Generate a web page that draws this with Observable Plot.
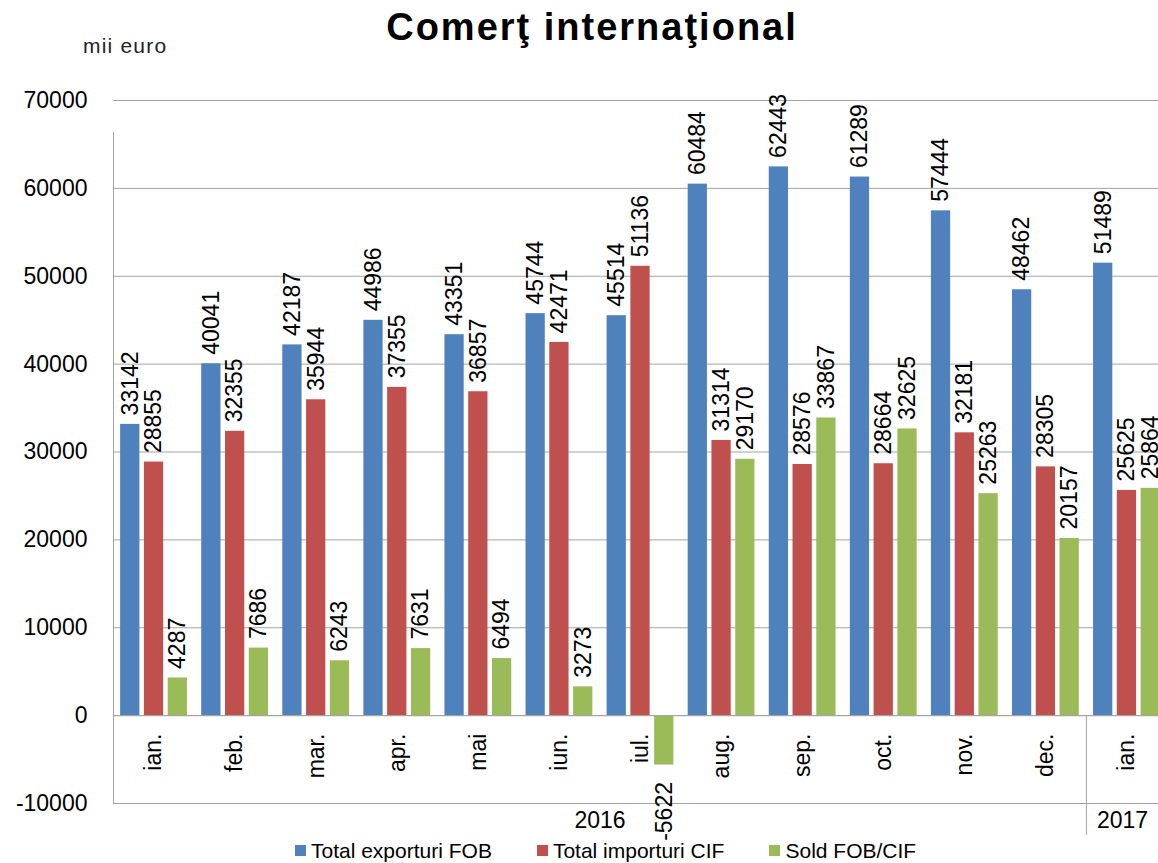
<!DOCTYPE html>
<html><head><meta charset="utf-8">
<script src="https://cdn.jsdelivr.net/npm/d3@7"></script>
<script src="https://cdn.jsdelivr.net/npm/@observablehq/plot@0.6"></script>
<style>
html,body{margin:0;padding:0;overflow:hidden;background:#fff;width:1158px;height:863px;}
#wrap{position:relative;width:1158px;height:863px;overflow:hidden;font-family:"Liberation Sans",Arial,sans-serif;color:#000;}
#chart{position:absolute;left:0;top:0;width:1168px;height:863px;}
#chart svg{max-width:none !important;}
#title{position:absolute;left:0;top:8px;width:1184px;text-align:center;font-size:38px;font-weight:bold;line-height:38px;letter-spacing:2px;}
#unit{position:absolute;left:83px;top:35px;font-size:21px;line-height:21px;letter-spacing:1.2px;color:#222;}
#legend{position:absolute;left:295px;top:840px;display:flex;gap:45px;font-size:21px;line-height:21px;white-space:nowrap;}
.item{display:flex;align-items:center;}
.sw{width:11px;height:11px;margin-right:5px;}
</style></head><body>
<div id="wrap"><div id="chart"></div><div id="title">Comerţ internaţional</div><div id="unit">mii euro</div><div id="legend"></div></div>
<script>
const months = ["ian.","feb.","mar.","apr.","mai","iun.","iul.","aug.","sep.","oct.","nov.","dec.","ian."];
const years = ["2016","2016","2016","2016","2016","2016","2016","2016","2016","2016","2016","2016","2017"];
const seriesNames = ["Total exporturi FOB","Total importuri CIF","Sold FOB/CIF"];
const seriesColors = ["#4F81BD","#C0504D","#9BBB59"];
const exportsFOB = [33142,40041,42187,44986,43351,45744,45514,60484,62443,61289,57444,48462,51489];
const importsCIF = [28855,32355,35944,37355,36857,42471,51136,31314,28576,28664,32181,28305,25625];
const soldFOBCIF = [4287,7686,6243,7631,6494,3273,-5622,29170,33867,32625,25263,20157,25864];
const yTicks = [-10000,0,10000,20000,30000,40000,50000,60000,70000];

const seriesValues = [exportsFOB, importsCIF, soldFOBCIF];
const rows = [];
months.forEach((m, i) => seriesNames.forEach((s, k) => rows.push({i, series: s, value: seriesValues[k][i]})));

const band = d3.scaleBand().domain(seriesNames).range([0, 1]).paddingInner(0.19).paddingOuter(0.3);
const bw = band.bandwidth();

const monthRows = months.map((m, i) => ({i, m}));
const yearGroups = d3.groups(months.map((m, i) => ({i, y: years[i]})), d => d.y)
  .map(([y, arr]) => ({y, start: d3.min(arr, d => d.i), end: d3.max(arr, d => d.i) + 1}));

const W = 1168, ML = 113, MR = 1;
const step = (W - ML - MR) / months.length;
const visibleEnd = (1158 - ML) / step;
const yMin = d3.min(yTicks), yMax = d3.max(yTicks);
const grid = "#a3a3a3";
const labelX = d => d.i + band(d.series) + bw / 2;

const plot = Plot.plot({
  width: W, height: 863,
  marginLeft: ML, marginRight: MR, marginTop: 100, marginBottom: 60,
  style: {fontFamily: '"Liberation Sans", Arial, sans-serif', fontSize: "23px", color: "#000", background: "transparent", maxWidth: "none"},
  x: {type: "linear", domain: [0, months.length], axis: null},
  y: {domain: [yMin, yMax], axis: null},
  color: {domain: seriesNames, range: seriesColors},
  marks: [
    Plot.ruleY(yTicks, {stroke: grid, strokeWidth: 1}),
    Plot.rect(rows, {x1: d => d.i + band(d.series), x2: d => d.i + band(d.series) + bw, y1: 0, y2: "value", fill: "series"}),
    Plot.ruleY([0], {stroke: grid}),
    Plot.ruleX([0], {y1: yMin, y2: yMax, stroke: grid, insetBottom: -32}),
    Plot.ruleX(yearGroups.slice(1), {x: "start", y1: 0, y2: yMin, stroke: grid, insetBottom: -32}),
    Plot.axisY({ticks: yTicks, tickSize: 0, tickPadding: 26, tickFormat: d => String(d), fontSize: 23, label: null}),
    Plot.text(rows.filter(d => d.value >= 0), {
      x: labelX, y: "value", text: d => String(d.value),
      rotate: -90, textAnchor: "start", dy: -9, fontSize: 23, fill: "#000"
    }),
    Plot.text(rows.filter(d => d.value < 0), {
      x: labelX, y: "value", text: d => String(d.value),
      rotate: -90, textAnchor: "end", dy: 17, fontSize: 23, fill: "#000"
    }),
    Plot.text(monthRows, {x: d => d.i + 0.5, y: 0, text: "m", rotate: -90, textAnchor: "end", dy: 18, fontSize: 23, fill: "#000"}),
    Plot.text(yearGroups, {x: d => (d.start + Math.min(d.end, visibleEnd)) / 2, y: yMin, text: "y", dy: 17, fontSize: 23, fill: "#000"})
  ]
});
document.getElementById("chart").appendChild(plot);

const lg = d3.select("#legend");
seriesNames.forEach((s, k) => {
  const it = lg.append("div").attr("class", "item");
  it.append("div").attr("class", "sw").style("background", seriesColors[k]);
  it.append("span").text(s);
});
</script>
</body></html>
